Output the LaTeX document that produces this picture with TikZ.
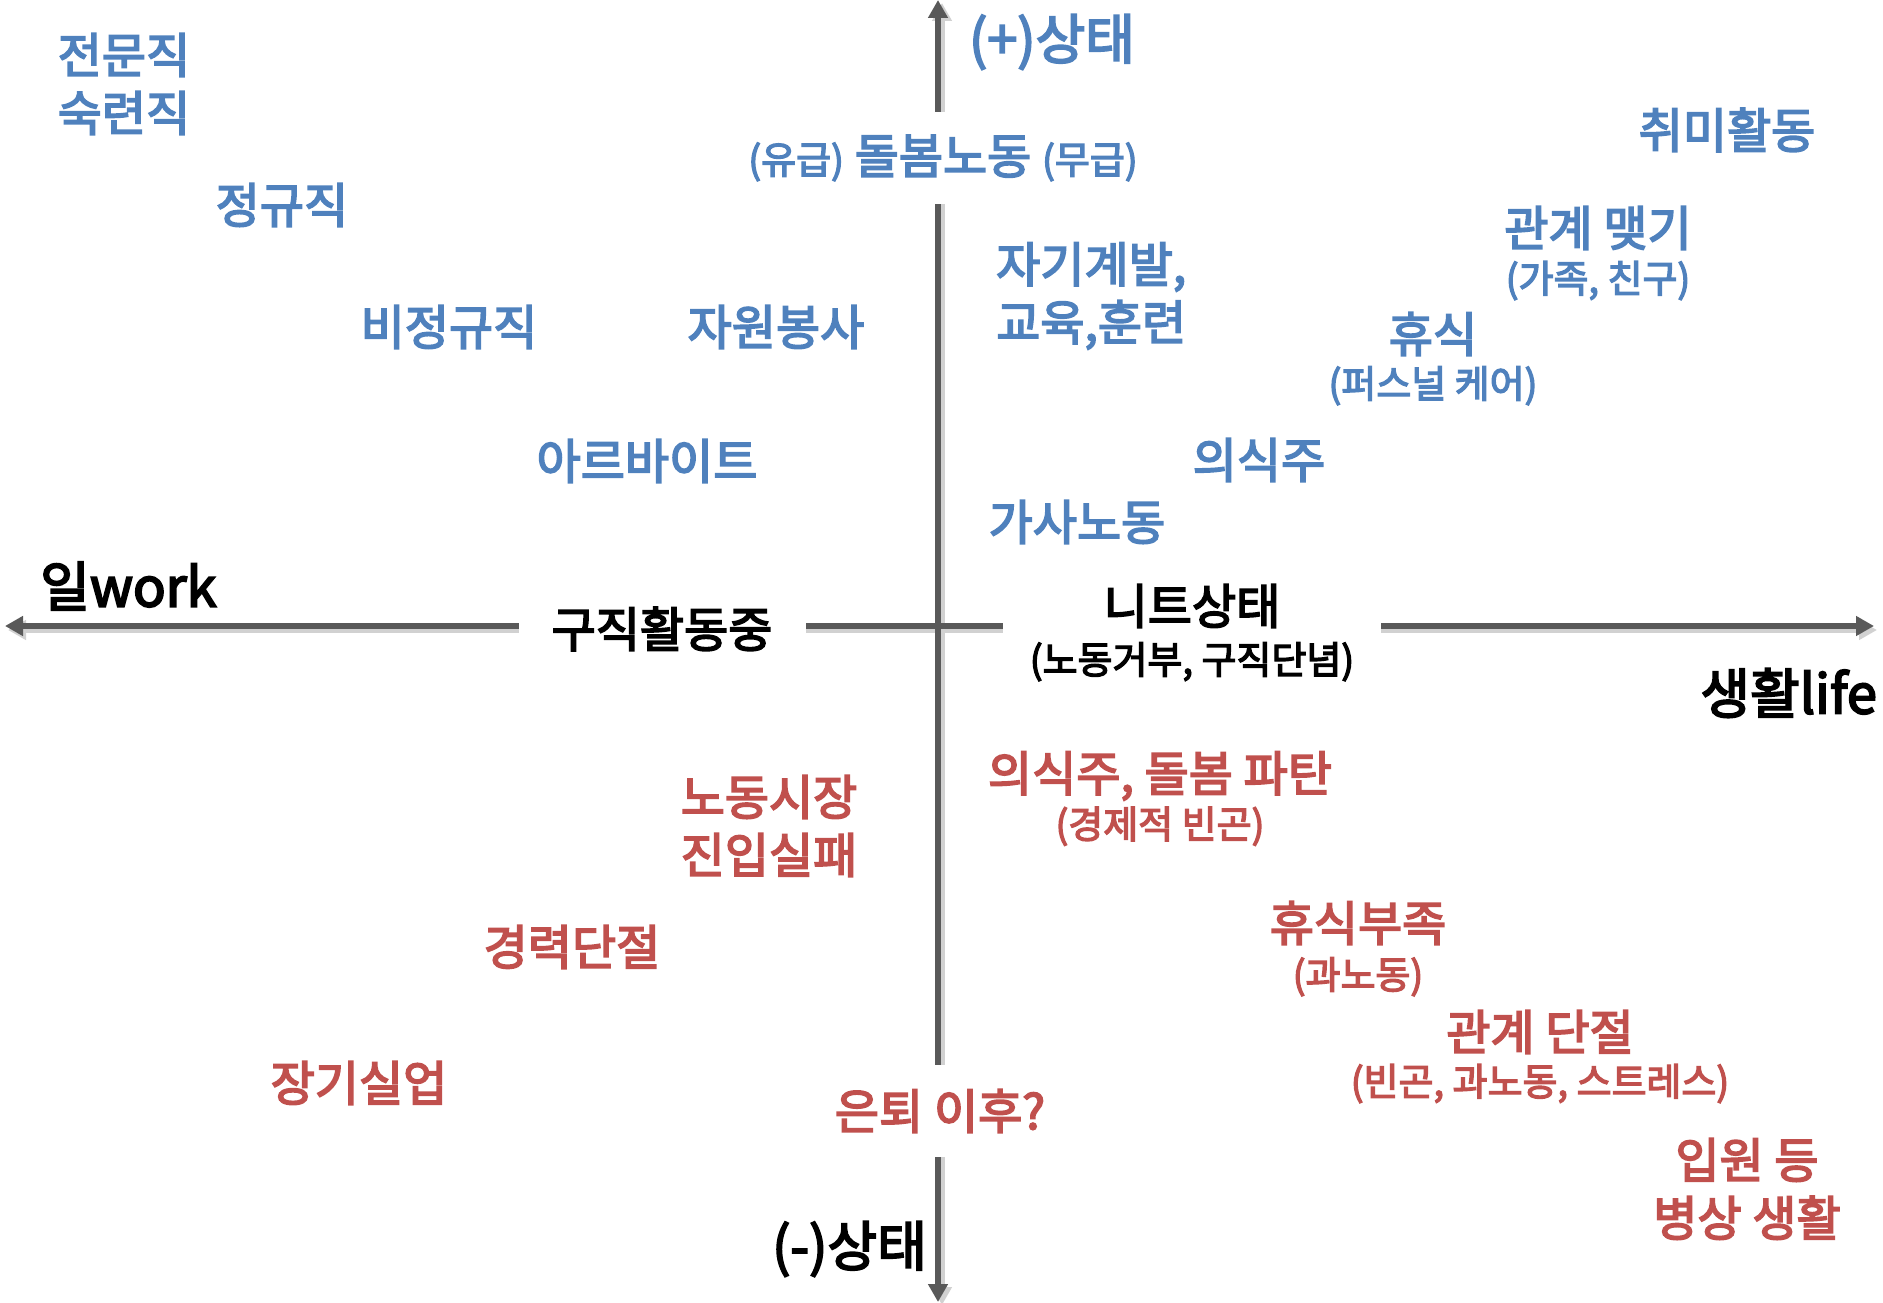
\documentclass[tikz,border=0pt]{standalone}
\usepackage{fontspec}
\setmainfont{Noto Sans CJK KR}[BoldFont={Noto Sans CJK KR},BoldFeatures={FakeBold=3.5}]
\usetikzlibrary{positioning,arrows.meta}

\definecolor{plusblue}{HTML}{4F81BD}
\definecolor{minusred}{HTML}{C0504D}
\definecolor{axisgray}{HTML}{595959}

\tikzset{
  axis/.style={draw=axisgray,line width=6pt,-{Triangle[length=18pt,width=19pt]}},
  axisshade/.style={draw=black!18,line width=6pt,-{Triangle[length=18pt,width=19pt]}},
  lab/.style={font=\fontsize{48}{58}\selectfont\bfseries,inner sep=0pt,align=center},
  sub/.style={font=\fontsize{38}{44}\selectfont\bfseries,inner sep=0pt,align=center},
  good/.style={lab,text=plusblue},
  goodsub/.style={sub,text=plusblue},
  bad/.style={lab,text=minusred},
  badsub/.style={sub,text=minusred},
  pole/.style={font=\fontsize{54}{60}\selectfont\bfseries,inner sep=0pt},
  mask/.style={fill=white}
}

\begin{document}
\begin{tikzpicture}[x=1pt,y=-1pt]
    \useasboundingbox (0,0) rectangle (1883,1303);

    \coordinate (O) at (938,626);
    \coordinate (W) at (5,626);
    \coordinate (E) at (1874,626);
    \coordinate (N) at (938,0);
    \coordinate (S) at (938,1302);

    % axes with a soft shade
    \draw[axisshade] ([shift={(3,4)}]O) -- ([shift={(3,4)}]W);
    \draw[axisshade] ([shift={(3,4)}]O) -- ([shift={(3,4)}]E);
    \draw[axisshade] ([shift={(4,3)}]O) -- ([shift={(4,3)}]N);
    \draw[axisshade] ([shift={(4,3)}]O) -- ([shift={(4,3)}]S);
    \draw[axis] (O) -- (W);
    \draw[axis] (O) -- (E);
    \draw[axis] (O) -- (N);
    \draw[axis] (O) -- (S);

    % poles
    \node[pole,text=plusblue] (plus) at (1052,42) {(+)상태};
    \node[pole,anchor=east] (minus) at (927,1249) {(-)상태};
    \node[pole,anchor=west] (work) at (40,586) {일work};
    \node[pole,anchor=east] (life) at (1877,693) {생활life};

    % on the axes
    \node[lab,mask,minimum width=287pt,minimum height=50pt] (seek) at (662,629) {구직활동중};
    \node[lab,mask,minimum width=378pt,minimum height=60pt] (neet) at (1192,606) {니트상태};
    \node[sub,below=6pt of neet.text,anchor=north] (neetsub) at (1192,636) {(노동거부, 구직단념)};
    \node[good,mask,minimum height=92pt] (care) at (943,158)
      {{\fontsize{38}{40}\selectfont(유급)} 돌봄노동 {\fontsize{38}{40}\selectfont(무급)}};
    \node[bad,mask,minimum height=92pt] (retire) at (940,1111) {은퇴 이후?};

    % (+) side
    \node[good] (prof) at (124,84) {전문직\\숙련직};
    \node[good] (reg) at (282,205) {정규직};
    \node[good] (nonreg) at (449,327) {비정규직};
    \node[good] (vol) at (776,327) {자원봉사};
    \node[good] (parttime) at (647,461) {아르바이트};
    \node[good] (hobby) at (1727,130) {취미활동};
    \node[good] (rel) at (1598,228) {관계 맺기};
    \node[goodsub,below=11pt of rel] (relsub) {(가족, 친구)};
    \node[good,align=left,anchor=west] (selfdev) at (996,296) {자기계발,\\교육,훈련};
    \node[good] (rest) at (1433,334) {휴식};
    \node[goodsub,below=10pt of rest] (restsub) {(퍼스널 케어)};
    \node[good] (basic) at (1259,460) {의식주};
    \node[good] (house) at (1077,522) {가사노동};

    % (-) side
    \node[bad] (entry) at (769,826) {노동시장\\진입실패};
    \node[bad] (collapse) at (1160,776) {의식주, 돌봄 파탄};
    \node[badsub,below=6pt of collapse] (collapsesub) {(경제적 빈곤)};
    \node[bad] (gap) at (572,947) {경력단절};
    \node[bad] (tired) at (1358,923) {휴식부족};
    \node[badsub,below=12pt of tired] (tiredsub) {(과노동)};
    \node[bad] (cut) at (1540,1032) {관계 단절};
    \node[badsub,below=10pt of cut] (cutsub) {(빈곤, 과노동, 스트레스)};
    \node[bad] (longunemp) at (359,1083) {장기실업};
    \node[bad] (hosp) at (1747,1189) {입원 등\\병상 생활};
\end{tikzpicture}
\end{document}
